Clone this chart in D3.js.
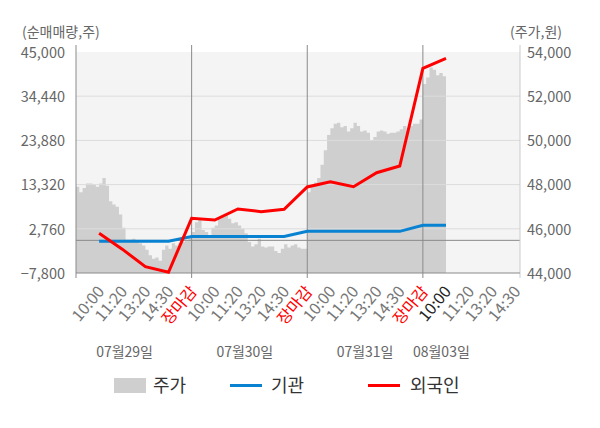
<!DOCTYPE html>
<html>
<head>
<meta charset="utf-8">
<script src="https://cdn.jsdelivr.net/npm/d3@7"></script>
<style>
  body { margin: 0; background: #fff; }
  svg { font-family: "Noto Sans CJK KR", "Noto Sans", sans-serif; }
</style>
</head>
<body>
<svg id="chart"></svg>
<script>
// Data
// x unit = one label slot; each day is 5 slots (10:00, 11:20, 13:20, 14:30, 장마감)
let slotLabels = ['10:00', '11:20', '13:20', '14:30', '장마감'];
let dayLabels = ['07월29일', '07월30일', '07월31일', '08월03일'];
let dayLabelSlot = [2.1, 7.3, 12.5, 15.8];
let lastDaySlots = 4; // 08월03일 only shows 10:00 .. 14:30

// Stock price (주가, 원), evenly sampled through each trading day
let priceDay1 = [47900, 47650, 47850, 48050, 48050, 48000, 47900, 48050, 48300, 47950,
    47250, 47100, 47000, 46650, 46050, 45500, 45500, 45550, 45400, 45350,
    45250, 45050, 44800, 44650, 44700, 44550, 45050, 45250, 45100, 45350,
    45250, 45350, 45400, 45450, 45650, 46050];
let priceDay2 = [45850, 46300, 46400, 45950, 45850, 45600, 46050, 46150, 46450, 46600,
    46650, 46450, 46250, 46300, 46150, 46000, 45800, 45400, 45200, 45300,
    45550, 45200, 45150, 45200, 45200, 45000, 44900, 45100, 45300, 45150,
    45250, 45300, 45150, 45100, 45100, 45100];
let priceDay3 = [47650, 47900, 48100, 48300, 48900, 49550, 50250, 50550, 50750, 50800,
    50600, 50650, 50400, 50550, 50800, 50650, 50400, 50450, 50350, 50000,
    50150, 50400, 50450, 50400, 50300, 50350, 50350, 50400, 50500, 50650,
    50450, 50650, 50750, 50750, 50950, 51450];
let priceDay4 = [52550, 52850, 53300, 53200, 52950, 53050, 52900, 52600];
let samplesPerDay = 35;

// Cumulative net buying (순매매량, 주) at each label slot, starting at slot 1
let institution = [-200, -200, -200, -200, 900, 900, 900, 900, 900, 2150,
    2150, 2150, 2150, 2150, 3600, 3600];
let foreigner = [1700, -2100, -6300, -7630, 5270, 4860, 7500, 6850, 7420, 12750,
    14000, 12800, 16160, 17760, 41100, 43490];

let leftTicks = [-7800, 2760, 13320, 23880, 34440, 45000];
let rightTicks = [44000, 46000, 48000, 50000, 52000, 54000];

// Layout
let width = 600, height = 428;
let plotLeft = 76, plotRight = 520, plotTop = 52, plotBottom = 273;

let svg = d3.select('#chart')
    .attr('width', width)
    .attr('height', height);

let x = d3.scaleLinear().domain([0, 19.2]).range([plotLeft, plotRight]);
let yLeft = d3.scaleLinear().domain([-7800, 45000]).range([plotBottom, plotTop]);
let yRight = d3.scaleLinear().domain([44000, 54000]).range([plotBottom, plotTop]);

// background
svg.append('rect')
    .attr('x', plotLeft).attr('y', plotTop)
    .attr('width', plotRight - plotLeft).attr('height', plotBottom - plotTop)
    .attr('fill', '#f4f4f4');

// price area
let pricePoints = [];
[priceDay1, priceDay2, priceDay3, priceDay4].forEach((arr, d) => {
    arr.forEach((p, i) => pricePoints.push({ s: d * 5 + i * 5 / samplesPerDay, p: p }));
});

let area = d3.area()
    .x(d => x(d.s))
    .y0(plotBottom)
    .y1(d => yRight(d.p))
    .curve(d3.curveStepAfter);

svg.append('path')
    .datum(pricePoints)
    .attr('d', area)
    .attr('fill', '#cfcfcf');

// horizontal grid
svg.append('g')
    .selectAll('line')
    .data(leftTicks.slice(1, -1))
    .enter().append('line')
    .attr('x1', plotLeft).attr('x2', plotRight)
    .attr('y1', d => yLeft(d)).attr('y2', d => yLeft(d))
    .attr('stroke', '#dcdcdc');

// zero line
svg.append('line')
    .attr('x1', plotLeft).attr('x2', plotRight)
    .attr('y1', yLeft(0)).attr('y2', yLeft(0))
    .attr('stroke', '#8a8a8a');

// day separators
svg.append('g')
    .selectAll('line')
    .data([0, 5, 10, 15])
    .enter().append('line')
    .attr('x1', d => x(d)).attr('x2', d => x(d))
    .attr('y1', 45).attr('y2', plotBottom + 5)
    .attr('stroke', '#8a8a8a');

// right border
svg.append('line')
    .attr('x1', plotRight).attr('x2', plotRight)
    .attr('y1', 45).attr('y2', plotBottom + 5)
    .attr('stroke', '#cccccc');

// bottom axis line
svg.append('line')
    .attr('x1', plotLeft).attr('x2', plotRight)
    .attr('y1', plotBottom).attr('y2', plotBottom)
    .attr('stroke', '#8a8a8a');

// lines
let line = d3.line()
    .x((d, i) => x(i + 1))
    .y(d => yLeft(d));

svg.append('path')
    .datum(institution)
    .attr('d', line)
    .attr('fill', 'none')
    .attr('stroke', '#0a82d2')
    .attr('stroke-width', 3);

svg.append('path')
    .datum(foreigner)
    .attr('d', line)
    .attr('fill', 'none')
    .attr('stroke', '#ff0000')
    .attr('stroke-width', 3);

// left axis labels
let fmt = d3.format(',');
svg.append('g')
    .selectAll('text')
    .data(leftTicks)
    .enter().append('text')
    .attr('x', 65)
    .attr('y', d => yLeft(d))
    .attr('dy', '0.4em')
    .attr('text-anchor', 'end')
    .attr('font-size', 14.5)
    .attr('fill', '#666')
    .text(d => fmt(d));

// right axis labels
svg.append('g')
    .selectAll('text')
    .data(rightTicks)
    .enter().append('text')
    .attr('x', 527)
    .attr('y', d => yRight(d))
    .attr('dy', '0.4em')
    .attr('font-size', 14.5)
    .attr('fill', '#666')
    .text(d => fmt(d));

svg.append('text')
    .attr('x', 22).attr('y', 37)
    .attr('font-size', 14).attr('fill', '#666')
    .text('(순매매량,주)');

svg.append('text')
    .attr('x', 562).attr('y', 37)
    .attr('text-anchor', 'end')
    .attr('font-size', 14).attr('fill', '#666')
    .text('(주가,원)');

// x tick labels
let xTicks = [];
dayLabels.forEach((day, d) => {
    let n = d === dayLabels.length - 1 ? lastDaySlots : slotLabels.length;
    for (let i = 0; i < n; i++) {
        xTicks.push({ s: d * 5 + i + 1, label: slotLabels[i], day: d, i: i });
    }
});

svg.append('g')
    .selectAll('text')
    .data(xTicks)
    .enter().append('text')
    .attr('transform', d => `translate(${x(d.s) + 6},${plotBottom + 19}) rotate(-50)`)
    .attr('text-anchor', 'end')
    .attr('font-size', 16)
    .attr('fill', d => d.label === '장마감' ? '#ff0000' : (d.day === 3 && d.i === 0 ? '#222' : '#777'))
    .text(d => d.label);

// day labels
svg.append('g')
    .selectAll('text')
    .data(dayLabels)
    .enter().append('text')
    .attr('x', (d, i) => x(dayLabelSlot[i]))
    .attr('y', 357)
    .attr('text-anchor', 'middle')
    .attr('font-size', 14)
    .attr('fill', '#666')
    .text(d => d);

// legend
let legend = svg.append('g');
legend.append('rect')
    .attr('x', 114).attr('y', 378).attr('width', 32).attr('height', 15)
    .attr('fill', '#cfcfcf');
legend.append('text')
    .attr('x', 153).attr('y', 392).attr('font-size', 18).attr('fill', '#333')
    .text('주가');
legend.append('line')
    .attr('x1', 230).attr('x2', 262).attr('y1', 385.5).attr('y2', 385.5)
    .attr('stroke', '#0a82d2').attr('stroke-width', 3);
legend.append('text')
    .attr('x', 271).attr('y', 392).attr('font-size', 18).attr('fill', '#333')
    .text('기관');
legend.append('line')
    .attr('x1', 368).attr('x2', 400).attr('y1', 385.5).attr('y2', 385.5)
    .attr('stroke', '#ff0000').attr('stroke-width', 3);
legend.append('text')
    .attr('x', 410).attr('y', 392).attr('font-size', 18).attr('fill', '#333')
    .text('외국인');
</script>
</body>
</html>
